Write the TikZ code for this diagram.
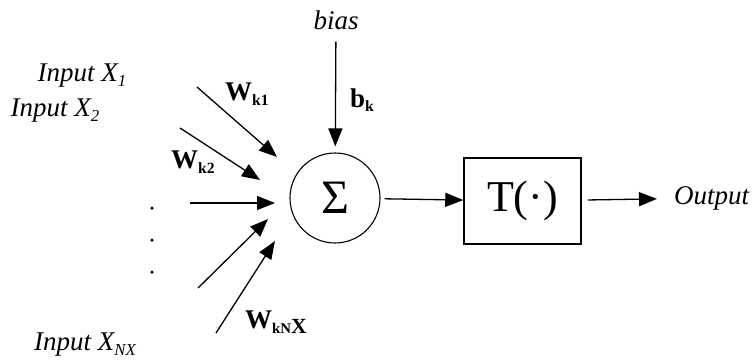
\documentclass[tikz,border=0pt]{standalone}
\usepackage{fontspec}
\setmainfont{Liberation Serif}
\usetikzlibrary{arrows.meta,positioning,calc}

\newcommand{\lowsub}[2][0.62]{\raisebox{-0.35ex}{\scalebox{#1}{#2}}}

\begin{document}
\begin{tikzpicture}[
    x=1pt, y=-1pt,
    >={Triangle[length=18pt,width=14pt]},
    link/.style={->, line width=1.3pt},
    inlabel/.style={
        font=\fontsize{27}{30}\selectfont\itshape,
        inner sep=0pt
    },
    weight/.style={
        font=\fontsize{27}{30}\selectfont\bfseries,
        inner sep=0pt
    },
    dotmark/.style={circle, fill=black, inner sep=0pt, minimum size=3.5pt}
]
\useasboundingbox (0,0) rectangle (754,360);

% Summing junction and transfer block
\node[circle, draw, line width=1.1pt, minimum size=90pt, inner sep=0pt,
      font=\fontsize{48}{48}\selectfont] (sum) at (335,198) {Σ};
\node[draw, line width=1.5pt, minimum width=117pt, minimum height=86pt,
      inner sep=0pt, font=\fontsize{44}{44}\selectfont] (tf) at (522.5,201) {T(·)};

% Labels
\node[inlabel] (bias) at (336,20) {bias};
\node[inlabel] (in1)  at (82,76)  {Input X\lowsub{\itshape 1}};
\node[inlabel] (in2)  at (55,111) {Input X\lowsub{\itshape 2}};
\node[inlabel] (inN)  at (85,345) {Input X\lowsub{\itshape NX}};
\node[inlabel, anchor=west] (out) at (674,198) {Output};

\node[weight] (wk1) at (247,94)  {W\lowsub[0.58]{k1}};
\node[weight] (wk2) at (193,162) {W\lowsub[0.58]{k2}};
\node[weight] (wkN) at (276,322) {W\lowsub[0.55]{kN}\lowsub[0.8]{X}};
\node[weight] (bk)  at (362,100) {b\lowsub[0.58]{k}};

% Dots for the omitted inputs
\node[dotmark] (d1) at (152,208) {};
\node[dotmark] (d2) at (152,240) {};
\node[dotmark] (d3) at (152,272) {};

% Arrow ends
\coordinate (t1) at (197,87);   \coordinate (h1) at (277,157);
\coordinate (t2) at (180,128);  \coordinate (h2) at (260,180);
\coordinate (t3) at (190,203);  \coordinate (h3) at (275,203);
\coordinate (t4) at (198,288);  \coordinate (h4) at (268,219);
\coordinate (t5) at (216,333);  \coordinate (h5) at (275,241);

% Connectors
\draw[link] (t1) -- (h1);
\draw[link] (t2) -- (h2);
\draw[link] (t3) -- (h3);
\draw[link] (t4) -- (h4);
\draw[link] (t5) -- (h5);
\draw[link, shorten <=12pt, shorten >=6pt] (bias) -- (sum);
\draw[link, shorten <=4pt] (sum) -- (tf);
\draw[link, shorten <=6pt, shorten >=17pt] (tf) -- (out);

\end{tikzpicture}
\end{document}
